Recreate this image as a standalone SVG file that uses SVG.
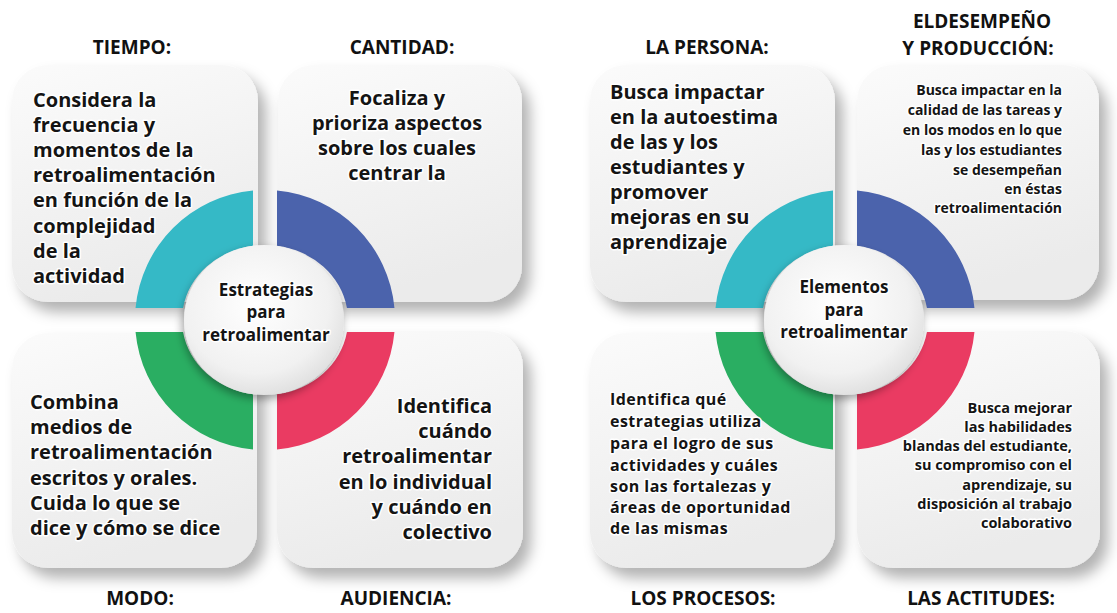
<svg xmlns="http://www.w3.org/2000/svg" xmlns:xlink="http://www.w3.org/1999/xlink" width="1117" height="613" viewBox="0 0 1117 613">
<defs>
<style>
.box{fill:url(#boxg);filter:url(#sh)}
.t{font-family:"Open Sans","Liberation Sans",sans-serif;font-weight:700;fill:#141414;stroke:#fff;stroke-width:3;paint-order:stroke;stroke-linejoin:round}
.b{font-size:20px}
.s{font-size:14px}
.m{font-size:16px;letter-spacing:0.45px}
.r{font-size:14.5px}
.c{font-size:17px;text-anchor:middle}
.e{text-anchor:end}
.mid{text-anchor:middle}
.h{font-family:"Open Sans","Liberation Sans",sans-serif;font-weight:700;font-size:19px;fill:#111;text-anchor:middle}
.disc{fill:url(#cg);filter:url(#csh)}
</style>
<linearGradient id="boxg" x1="0" y1="0" x2="0.3" y2="1">
<stop offset="0" stop-color="#fbfbfb"/>
<stop offset="1" stop-color="#ebebeb"/>
</linearGradient>
<radialGradient id="cg" cx="0.45" cy="0.4" r="0.65">
<stop offset="0" stop-color="#ffffff"/>
<stop offset="0.7" stop-color="#f1f1f1"/>
<stop offset="1" stop-color="#dcdcdc"/>
</radialGradient>
<filter id="sh" x="-20%" y="-20%" width="150%" height="150%">
<feDropShadow dx="8" dy="10" stdDeviation="7" flood-color="#000" flood-opacity="0.3"/>
</filter>
<filter id="csh" x="-30%" y="-30%" width="160%" height="160%">
<feDropShadow dx="-2" dy="4" stdDeviation="4" flood-color="#000" flood-opacity="0.35"/>
</filter>
<path id="seg" d="M -12,-129.45 A130,130 0 0 0 -129.45,-12 L -81.93,-12 A83,75 0 0 1 -12,-74.21 Z"/>
</defs>
<rect width="1117" height="613" fill="#fff"/>

<!-- LEFT DIAGRAM boxes -->
<g id="l-tiempo"><rect class="box" x="12" y="65" width="246" height="237" rx="36"/></g>
<g id="l-cantidad"><rect class="box" x="278" y="65" width="244" height="237" rx="36"/></g>
<g id="l-modo"><rect class="box" x="12" y="333" width="245" height="235" rx="36"/></g>
<g id="l-audiencia"><rect class="box" x="277" y="331" width="246" height="237" rx="36"/></g>

<!-- RIGHT DIAGRAM boxes -->
<g id="r-persona"><rect class="box" x="590" y="65" width="245" height="237" rx="36"/></g>
<g id="r-desempeno"><rect class="box" x="857" y="65" width="242" height="235" rx="36"/></g>
<g id="r-procesos"><rect class="box" x="590" y="333" width="245" height="235" rx="36"/></g>
<g id="r-actitudes"><rect class="box" x="857" y="331" width="243" height="237" rx="36"/></g>

<!-- Left center -->
<g id="l-center">
<use xlink:href="#seg" href="#seg" transform="translate(265,320)" fill="#35B9C6"/>
<use xlink:href="#seg" href="#seg" transform="translate(265,320) scale(-1,1)" fill="#4B63AC"/>
<use xlink:href="#seg" href="#seg" transform="translate(265,320) scale(1,-1)" fill="#2AAE62"/>
<use xlink:href="#seg" href="#seg" transform="translate(265,320) scale(-1,-1)" fill="#EA3B62"/>
<ellipse class="disc" cx="264" cy="320" rx="80" ry="75"/>
<text class="t c" x="266" y="296">Estrategias</text>
<text class="t c" x="266" y="318">para</text>
<text class="t c" x="266" y="341">retroalimentar</text>
</g>

<!-- Right center -->
<g id="r-center">
<use xlink:href="#seg" href="#seg" transform="translate(845,320)" fill="#35B9C6"/>
<use xlink:href="#seg" href="#seg" transform="translate(845,320) scale(-1,1)" fill="#4B63AC"/>
<use xlink:href="#seg" href="#seg" transform="translate(845,320) scale(1,-1)" fill="#2AAE62"/>
<use xlink:href="#seg" href="#seg" transform="translate(845,320) scale(-1,-1)" fill="#EA3B62"/>
<ellipse class="disc" cx="844" cy="320" rx="80" ry="75"/>
<text class="t c" x="844" y="293">Elementos</text>
<text class="t c" x="844" y="316">para</text>
<text class="t c" x="844" y="338">retroalimentar</text>
</g>

<g id="connectors"></g>

<!-- Left texts -->
<g id="l-tiempo-text">
<text class="h" x="132" y="54">TIEMPO:</text>
<text class="t b" x="33" y="107">Considera la</text>
<text class="t b" x="33" y="132">frecuencia y</text>
<text class="t b" x="33" y="157">momentos de la</text>
<text class="t b" x="33" y="182">retroalimentación</text>
<text class="t b" x="33" y="207">en función de la</text>
<text class="t b" x="33" y="233">complejidad</text>
<text class="t b" x="33" y="258">de la</text>
<text class="t b" x="33" y="283">actividad</text>
</g>
<g id="l-cantidad-text">
<text class="h" x="402" y="54">CANTIDAD:</text>
<text class="t b mid" x="397" y="105">Focaliza y</text>
<text class="t b mid" x="397" y="130">prioriza aspectos</text>
<text class="t b mid" x="397" y="155">sobre los cuales</text>
<text class="t b mid" x="397" y="180">centrar la</text>
</g>
<g id="l-modo-text">
<text class="h" x="140" y="605">MODO:</text>
<text class="t b" x="30" y="409">Combina</text>
<text class="t b" x="30" y="434">medios de</text>
<text class="t b" x="30" y="459">retroalimentación</text>
<text class="t b" x="30" y="485">escritos y orales.</text>
<text class="t b" x="30" y="510">Cuida lo que se</text>
<text class="t b" x="30" y="535">dice y cómo se dice</text>
</g>
<g id="l-audiencia-text">
<text class="h" x="396" y="605">AUDIENCIA:</text>
<text class="t b e" x="492" y="413">Identifica</text>
<text class="t b e" x="492" y="438">cuándo</text>
<text class="t b e" x="492" y="463">retroalimentar</text>
<text class="t b e" x="492" y="489">en lo individual</text>
<text class="t b e" x="492" y="514">y cuándo en</text>
<text class="t b e" x="492" y="539">colectivo</text>
</g>

<!-- Right texts -->
<g id="r-persona-text">
<text class="h" x="707" y="54">LA PERSONA:</text>
<text class="t b" x="610" y="99">Busca impactar</text>
<text class="t b" x="610" y="124">en la autoestima</text>
<text class="t b" x="610" y="149">de las y los</text>
<text class="t b" x="610" y="174">estudiantes y</text>
<text class="t b" x="610" y="199">promover</text>
<text class="t b" x="610" y="224">mejoras en su</text>
<text class="t b" x="610" y="249">aprendizaje</text>
</g>
<g id="r-desempeno-text">
<text class="h" x="982" y="28">ELDESEMPEÑO</text>
<text class="h" x="978" y="55">Y PRODUCCIÓN:</text>
<text class="t s e" x="1062" y="95">Busca impactar en la</text>
<text class="t s e" x="1062" y="115">calidad de las tareas y</text>
<text class="t s e" x="1062" y="135">en los modos en lo que</text>
<text class="t s e" x="1062" y="155">las y los estudiantes</text>
<text class="t s e" x="1062" y="175">se desempeñan</text>
<text class="t s e" x="1062" y="194">en éstas</text>
<text class="t s e" x="1062" y="213">retroalimentación</text>
</g>
<g id="r-procesos-text">
<text class="h" x="703" y="605">LOS PROCESOS:</text>
<text class="t m" x="610" y="405">Identifica qué</text>
<text class="t m" x="610" y="427">estrategias utiliza</text>
<text class="t m" x="610" y="449">para el logro de sus</text>
<text class="t m" x="610" y="471">actividades y cuáles</text>
<text class="t m" x="610" y="492">son las fortalezas y</text>
<text class="t m" x="610" y="513">áreas de oportunidad</text>
<text class="t m" x="610" y="534">de las mismas</text>
</g>
<g id="r-actitudes-text">
<text class="h" x="981" y="605">LAS ACTITUDES:</text>
<text class="t r e" x="1072" y="413">Busca mejorar</text>
<text class="t r e" x="1072" y="432">las habilidades</text>
<text class="t r e" x="1072" y="451">blandas del estudiante,</text>
<text class="t r e" x="1072" y="470">su compromiso con el</text>
<text class="t r e" x="1072" y="490">aprendizaje,  su</text>
<text class="t r e" x="1072" y="509">disposición al trabajo</text>
<text class="t r e" x="1072" y="528">colaborativo</text>
</g>
</svg>
